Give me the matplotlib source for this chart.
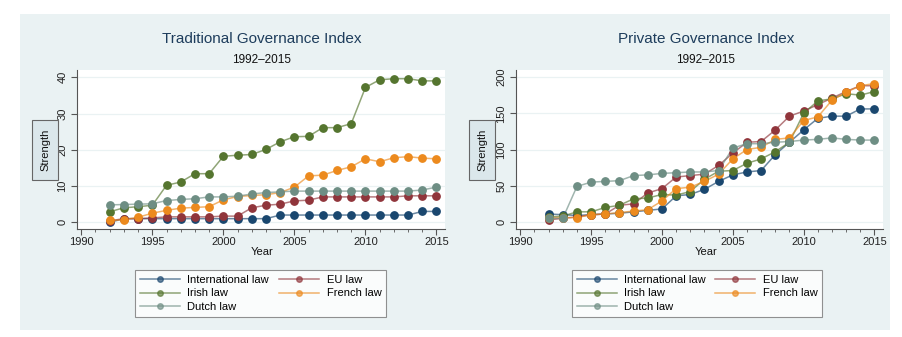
import matplotlib.pyplot as plt
from matplotlib.lines import Line2D
from matplotlib.patches import Rectangle

plt.rcParams['font.family'] = ['Liberation Sans', 'DejaVu Sans']

years = list(range(1992, 2016))
series_names = ['International law', 'EU law', 'Irish law', 'French law', 'Dutch law']
colors = ['#1a476f', '#90353b', '#55752f', '#ec8a1e', '#6e8e84']

# Traditional Governance Index
trad_intl = [0, 1, 1, 1, 1, 1, 1, 1, 1, 1, 1, 1, 2, 2, 2, 2, 2, 2, 2, 2, 2, 2, 3, 3]
trad_eu = [0.4, 1.0, 1.0, 1.2, 1.5, 1.5, 1.5, 1.5, 1.7, 1.7, 4.0, 4.7, 5.0, 5.9, 6.1, 7.0,
           7.0, 7.0, 7.0, 7.0, 7.0, 7.3, 7.3, 7.3]
trad_irish = [2.9, 4.0, 4.3, 4.7, 10.2, 11.1, 13.4, 13.4, 18.2, 18.5, 18.7, 20.1, 22.2, 23.6,
              23.7, 26.1, 26.1, 27.2, 37.2, 39.3, 39.6, 39.6, 39.0, 39.0]
trad_french = [0.5, 0.7, 1.4, 2.5, 3.3, 3.9, 4.1, 4.3, 6.2, 7.1, 7.4, 7.6, 8.2, 9.7, 12.8, 13.0,
               14.3, 15.3, 17.5, 16.7, 17.8, 18.1, 17.7, 17.5]
trad_dutch = [4.8, 4.9, 5.0, 5.1, 6.0, 6.3, 6.5, 7.0, 7.0, 7.2, 7.8, 8.2, 8.4, 8.6, 8.6, 8.6,
              8.6, 8.6, 8.6, 8.6, 8.6, 8.6, 8.9, 9.7]

# Private Governance Index
priv_intl = [11, 10, 9, 10, 11, 12, 14, 16, 18, 36, 38, 45, 56, 65, 69, 71, 93, 110, 127, 143,
             146, 146, 156, 156]
priv_eu = [3, 5, 7, 10, 11, 23, 25, 40, 46, 62, 64, 66, 78, 95, 110, 111, 127, 146, 153, 162,
           171, 180, 188, 188]
priv_irish = [7, 8, 14, 14, 20, 23, 32, 33, 38, 37, 42, 59, 70, 71, 81, 87, 97, 110, 150, 167,
              170, 177, 175, 180]
priv_french = [6, 6, 6, 10, 11, 13, 15, 17, 29, 46, 48, 56, 66, 87, 100, 103, 114, 116, 140, 145,
               168, 179, 188, 191]
priv_dutch = [5, 5, 49, 55, 56, 57, 64, 65, 67, 68, 69, 69, 71, 102, 108, 108, 110, 111, 113, 114,
              116, 114, 113, 113]

W, H = 903, 337


def box(x0, y0, x1, y1):
    # pixel box (top-left origin) -> figure fraction rect
    return [x0 / W, 1 - y1 / H, (x1 - x0) / W, (y1 - y0) / H]


fig = plt.figure(figsize=(W / 100, H / 100), dpi=100)
fig.patches.append(Rectangle((20 / W, 1 - 330 / H), 870 / W, 316 / H, transform=fig.transFigure,
                             facecolor='#eaf2f3', edgecolor='none', zorder=-5))

panels = [
    dict(rect=box(77, 70, 445, 229), title='Traditional Governance Index', cx=262,
         data=[trad_intl, trad_eu, trad_irish, trad_french, trad_dutch],
         ylim=(-1.85, 42), yticks=[0, 10, 20, 30, 40], lab_x=45,
         leg=(129, 264, 392, 317)),
    dict(rect=box(516, 70, 883, 229), title='Private Governance Index', cx=706,
         data=[priv_intl, priv_eu, priv_irish, priv_french, priv_dutch],
         ylim=(-9.7, 209.7), yticks=[0, 50, 100, 150, 200], lab_x=482,
         leg=(566, 264, 828, 317)),
]

for p in panels:
    ax = fig.add_axes(p['rect'])
    ax.set_facecolor('white')
    for vals, c in zip(p['data'], colors):
        ax.plot(years, vals, color=c, lw=1.1, alpha=0.65, zorder=2)
        ax.plot(years, vals, ls='none', marker='o', ms=5.3, color=c, zorder=3)
    ax.set_xlim(1989.7, 2015.6)
    ax.set_ylim(*p['ylim'])
    ax.set_xticks(range(1990, 2016, 5))
    ax.set_xticks(range(1990, 2016), minor=True)
    ax.set_yticks(p['yticks'])
    ax.grid(axis='y', color='#eaf2f3', lw=0.9, zorder=0)
    ax.set_axisbelow(True)
    for s in ['top', 'right']:
        ax.spines[s].set_visible(False)
    for s in ['left', 'bottom']:
        ax.spines[s].set_color('#555555')
        ax.spines[s].set_linewidth(0.8)
    ax.tick_params(axis='x', which='major', length=4, width=0.8, color='#555555',
                   labelsize=8, labelcolor='#222222', pad=2)
    ax.tick_params(axis='x', which='minor', length=2.5, width=0.6, color='#555555')
    ax.tick_params(axis='y', length=4, width=0.8, color='#555555', labelsize=8,
                   labelcolor='#222222', pad=3)
    for t in ax.get_yticklabels():
        t.set_rotation(90)
        t.set_va('center')

    fig.text(p['cx'] / W, 1 - 39 / H, p['title'], ha='center', va='center',
             fontsize=11, color='#1e3d5c')
    fig.text(p['cx'] / W, 1 - 60 / H, '1992–2015', ha='center', va='center',
             fontsize=8.5, color='#111111')
    fig.text(p['cx'] / W, 1 - 252 / H, 'Year', ha='center', va='center',
             fontsize=8, color='#111111')
    fig.text(p['lab_x'] / W, 1 - 150 / H, 'Strength', rotation=90, ha='center', va='center',
             fontsize=8, color='#111111',
             bbox=dict(boxstyle='square,pad=0.75', facecolor='#dbe7eb', edgecolor='#666666',
                       linewidth=0.8))

    handles = [Line2D([], [], color=c, lw=1.1, alpha=0.65, marker='o', ms=4,
                      markerfacecolor=c, markeredgecolor=c) for c in colors]
    order = [0, 2, 4, 1, 3]
    lx0, ly0, lx1, ly1 = p['leg']
    leg = ax.legend([handles[i] for i in order], [series_names[i] for i in order],
                    ncol=2, loc='upper left', mode='expand',
                    bbox_to_anchor=(lx0 / W, 1 - ly1 / H, (lx1 - lx0) / W, (ly1 - ly0) / H),
                    bbox_transform=fig.transFigure, fontsize=8, frameon=True,
                    fancybox=False, edgecolor='#777777', handlelength=3.6,
                    handletextpad=0.7, labelspacing=0.35, borderpad=0.45,
                    columnspacing=1.5)
    leg.get_frame().set_linewidth(0.8)

fig.savefig('out.png', dpi=100, facecolor='white')
